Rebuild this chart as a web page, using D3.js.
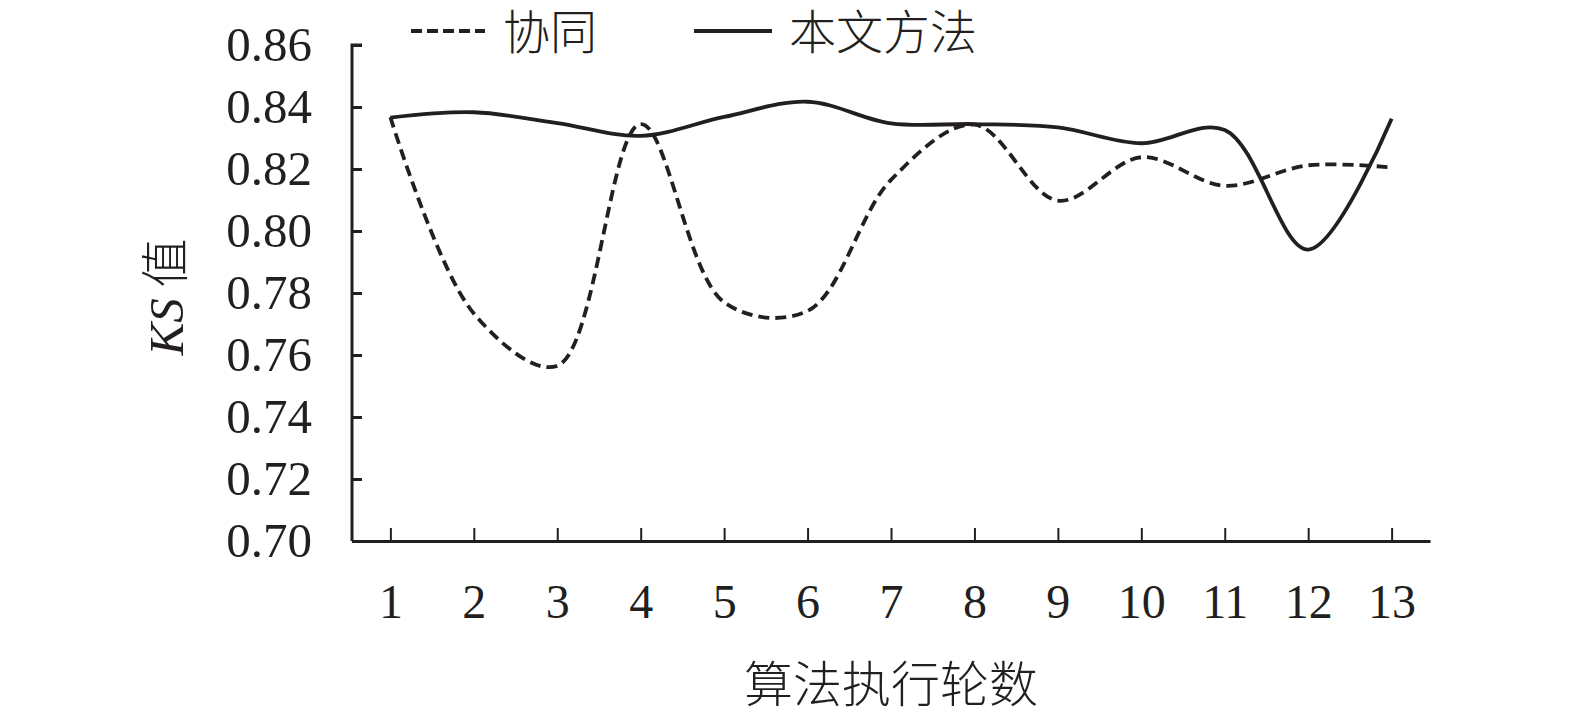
<!DOCTYPE html>
<html>
<head>
<meta charset="utf-8">
<script src="https://cdn.jsdelivr.net/npm/d3@7"></script>
<style>
  html, body { margin: 0; padding: 0; background: #fff; }
  svg { display: block; }
</style>
</head>
<body>
<div id="chart"></div>
<script>
// KS value per execution round
const rounds = [1, 2, 3, 4, 5, 6, 7, 8, 9, 10, 11, 12, 13];
const xieTong = [0.8367, 0.7734, 0.7565, 0.8345, 0.7770, 0.7742, 0.8165, 0.8343, 0.8098, 0.8238, 0.8146, 0.8212, 0.8205];
const benWen = [0.8366, 0.8383, 0.8348, 0.8307, 0.8368, 0.8417, 0.8347, 0.8345, 0.8334, 0.8283, 0.8326, 0.7940, 0.8362];
const yTicks = [0.70, 0.72, 0.74, 0.76, 0.78, 0.80, 0.82, 0.84, 0.86];
const seriesNames = ["协同", "本文方法"];

const width = 1575, height = 717;
const ink = "#231f20";
const numFont = "'Liberation Serif', 'Times New Roman', serif";
const cjkFont = "'Noto Sans CJK SC', sans-serif";

const svg = d3.select("#chart").append("svg")
  .attr("width", width)
  .attr("height", height);

const x = d3.scalePoint()
  .domain(rounds)
  .range([352, 1430])
  .padding(0.46);

const y = d3.scaleLinear()
  .domain([0.70, 0.86])
  .range([541, 45]);

// y axis, ticks pointing inward
const yAxis = svg.append("g")
  .attr("transform", "translate(352,0)")
  .call(d3.axisRight(y).tickValues(yTicks).tickSize(10).tickFormat(d3.format(".2f")));
yAxis.select(".domain").attr("stroke", ink).attr("stroke-width", 3).attr("d", `M10,${y(0.86)}H0V${y(0.70)}`);
yAxis.selectAll(".tick line").attr("stroke", ink).attr("stroke-width", 3);
yAxis.selectAll(".tick text")
  .attr("x", -40)
  .attr("text-anchor", "end")
  .attr("fill", ink)
  .style("font-family", numFont)
  .style("font-size", "49px");

// x axis, ticks pointing up
const xAxis = svg.append("g")
  .attr("transform", "translate(0,541)")
  .call(d3.axisTop(x).tickSize(13).tickSizeOuter(0));
xAxis.select(".domain").attr("stroke", ink).attr("stroke-width", 3);
xAxis.selectAll(".tick line").attr("stroke", ink).attr("stroke-width", 2);
xAxis.selectAll(".tick text")
  .attr("y", 60)
  .attr("dy", "0.35em")
  .attr("fill", ink)
  .style("font-family", numFont)
  .style("font-size", "48px");

const line = d3.line()
  .x((d, i) => x(rounds[i]))
  .y(d => y(d))
  .curve(d3.curveCatmullRom.alpha(0.5));

svg.append("path")
  .datum(xieTong)
  .attr("d", line)
  .attr("fill", "none")
  .attr("stroke", ink)
  .attr("stroke-width", 3.8)
  .attr("stroke-dasharray", "11,6");

svg.append("path")
  .datum(benWen)
  .attr("d", line)
  .attr("fill", "none")
  .attr("stroke", ink)
  .attr("stroke-width", 3.8);

// legend
const legend = svg.append("g");
legend.append("line")
  .attr("x1", 411).attr("x2", 485).attr("y1", 31).attr("y2", 31)
  .attr("stroke", ink).attr("stroke-width", 4).attr("stroke-dasharray", "11,5");
legend.append("text")
  .attr("x", 503).attr("y", 32).attr("dy", "0.36em")
  .attr("fill", ink)
  .style("font-family", cjkFont).style("font-size", "47px").style("font-weight", 300)
  .text(seriesNames[0]);
legend.append("line")
  .attr("x1", 694).attr("x2", 772).attr("y1", 31).attr("y2", 31)
  .attr("stroke", ink).attr("stroke-width", 4);
legend.append("text")
  .attr("x", 789).attr("y", 32).attr("dy", "0.36em")
  .attr("fill", ink)
  .style("font-family", cjkFont).style("font-size", "47px").style("font-weight", 300)
  .text(seriesNames[1]);

// axis titles
svg.append("text")
  .attr("x", 891).attr("y", 684).attr("dy", "0.36em")
  .attr("text-anchor", "middle")
  .attr("fill", ink)
  .style("font-family", cjkFont).style("font-size", "49px").style("font-weight", 300)
  .text("算法执行轮数");

const yTitle = svg.append("text")
  .attr("transform", "translate(165,297) rotate(-90)")
  .attr("text-anchor", "middle")
  .attr("dy", "0.36em")
  .attr("fill", ink)
  .style("font-size", "49px");
yTitle.append("tspan")
  .style("font-family", numFont).style("font-style", "italic")
  .text("KS");
yTitle.append("tspan")
  .style("font-family", cjkFont).style("font-weight", 300)
  .text(" 值");
</script>
</body>
</html>
